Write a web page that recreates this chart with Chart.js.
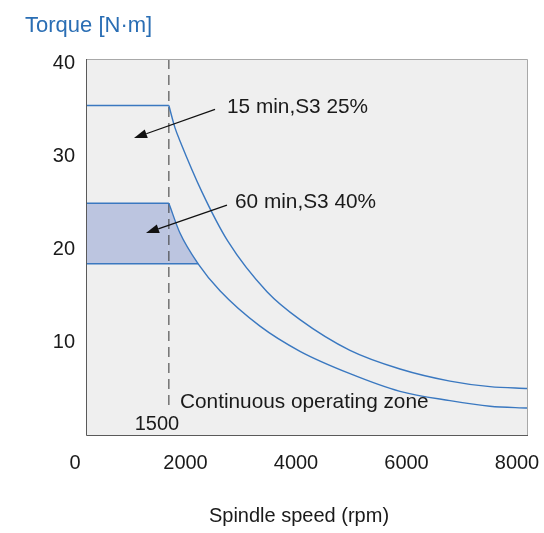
<!DOCTYPE html>
<html>
<head>
<meta charset="utf-8">
<script src="https://cdn.jsdelivr.net/npm/chart.js@4.4.1/dist/chart.umd.min.js"></script>
<style>
  html, body { margin: 0; padding: 0; background: #ffffff; }
  #wrap { width: 544px; height: 533px; }
</style>
</head>
<body>
<div id="wrap"><canvas id="torqueChart" width="544" height="533"></canvas></div>
<script>
// values
const baseSpeed = 1500;
const plateauSpeed = [0, 1500];
const plateau15 = [35.5, 35.5];
const plateau60 = [25.0, 25.0];
const zoneFloor = 18.5;
const floorSpeed = [0, 2030];

const speed15 = [1500, 1611, 1701, 2100, 2570, 3276, 3873, 4778, 5683, 6588, 7312, 8000];
const torque15 = [35.5, 33.1, 31.7, 26.2, 20.9, 15.5, 12.5, 9.2, 7.2, 5.9, 5.3, 5.1];

const speed60 = [1500, 1701, 2030, 2425, 3149, 3873, 4778, 5683, 6588, 7312, 8000];
const torque60 = [25.0, 21.8, 18.5, 15.6, 11.8, 9.1, 6.7, 4.8, 3.8, 3.2, 3.0];

const xTicks = [0, 2000, 4000, 6000, 8000];
const yTicks = [10, 20, 30, 40];

const lineBlue = '#3a78c0';
const zoneFill = '#bcc5e0';
const textColor = '#1a1a1a';
const fontFamily = "'Liberation Sans', Arial, sans-serif";

function toPoints(xs, ys) {
    return xs.map(function (x, i) { return { x: x, y: ys[i] }; });
}

// draws arrow from (x1,y1) to tip (x2,y2)
function drawArrow(ctx, x1, y1, x2, y2) {
    const ang = Math.atan2(y2 - y1, x2 - x1);
    const len = 13, half = 4.5;
    const bx = x2 - len * Math.cos(ang), by = y2 - len * Math.sin(ang);
    ctx.save();
    ctx.strokeStyle = '#111';
    ctx.fillStyle = '#111';
    ctx.lineWidth = 1.3;
    ctx.beginPath();
    ctx.moveTo(x1, y1);
    ctx.lineTo(bx, by);
    ctx.stroke();
    ctx.beginPath();
    ctx.moveTo(x2, y2);
    ctx.lineTo(bx + half * Math.sin(ang), by - half * Math.cos(ang));
    ctx.lineTo(bx - half * Math.sin(ang), by + half * Math.cos(ang));
    ctx.closePath();
    ctx.fill();
    ctx.restore();
}

const panelPlugin = {
    id: 'panel',
    beforeDraw: function (chart) {
        const a = chart.chartArea, ctx = chart.ctx;
        ctx.save();
        ctx.fillStyle = '#efefef';
        ctx.fillRect(a.left, a.top, a.right - a.left, a.bottom - a.top);
        ctx.restore();
    },
    afterDraw: function (chart) {
        const a = chart.chartArea, ctx = chart.ctx;
        const xs = chart.scales.x, ys = chart.scales.y;
        ctx.save();
        // frame
        ctx.lineWidth = 1;
        ctx.strokeStyle = '#a8a8a8';
        ctx.beginPath();
        ctx.moveTo(a.left, a.top + 0.5);
        ctx.lineTo(a.right - 0.5, a.top + 0.5);
        ctx.lineTo(a.right - 0.5, a.bottom);
        ctx.stroke();
        ctx.strokeStyle = '#5a5a5a';
        ctx.beginPath();
        ctx.moveTo(a.left + 0.5, a.top);
        ctx.lineTo(a.left + 0.5, a.bottom - 0.5);
        ctx.lineTo(a.right, a.bottom - 0.5);
        ctx.stroke();

        // annotations
        ctx.fillStyle = textColor;
        ctx.font = '20.8px ' + fontFamily;
        ctx.textBaseline = 'middle';
        ctx.textAlign = 'left';
        ctx.fillText('15 min,S3 25%', xs.getPixelForValue(2552), ys.getPixelForValue(35.3));
        ctx.fillText('60 min,S3 40%', xs.getPixelForValue(2697), ys.getPixelForValue(25.1));
        ctx.fillText('Continuous operating zone', xs.getPixelForValue(1701), ys.getPixelForValue(3.65));
        ctx.font = '20px ' + fontFamily;
        ctx.textAlign = 'center';
        ctx.fillText(String(baseSpeed), xs.getPixelForValue(1285), ys.getPixelForValue(1.2));

        drawArrow(ctx, xs.getPixelForValue(2335), ys.getPixelForValue(35.1),
            xs.getPixelForValue(869), ys.getPixelForValue(32.0));
        drawArrow(ctx, xs.getPixelForValue(2552), ys.getPixelForValue(24.8),
            xs.getPixelForValue(1086), ys.getPixelForValue(21.8));

        // axis titles
        ctx.textAlign = 'center';
        ctx.fillText('Spindle speed (rpm)', 299, 516);
        ctx.textAlign = 'left';
        ctx.textBaseline = 'alphabetic';
        ctx.fillStyle = '#2a6eb4';
        ctx.font = '22px ' + fontFamily;
        ctx.fillText('Torque [N·m]', 25, 32);
        ctx.restore();
    }
};

const lineBase = {
    borderColor: lineBlue,
    borderWidth: 1.4,
    pointRadius: 0,
    fill: false
};

new Chart(document.getElementById('torqueChart'), {
    type: 'line',
    data: {
        datasets: [
            Object.assign({}, lineBase, {
                label: '60 min plateau',
                data: toPoints(plateauSpeed, plateau60),
                backgroundColor: zoneFill,
                fill: { value: zoneFloor }
            }),
            Object.assign({}, lineBase, {
                label: '60 min,S3 40%',
                data: toPoints(speed60, torque60),
                cubicInterpolationMode: 'monotone'
            }),
            Object.assign({}, lineBase, {
                label: 'zone floor',
                data: toPoints(floorSpeed, [zoneFloor, zoneFloor]),
                backgroundColor: zoneFill,
                fill: 1
            }),
            Object.assign({}, lineBase, {
                label: '15 min plateau',
                data: toPoints(plateauSpeed, plateau15)
            }),
            Object.assign({}, lineBase, {
                label: '15 min,S3 25%',
                data: toPoints(speed15, torque15),
                cubicInterpolationMode: 'monotone'
            }),
            {
                label: 'base speed',
                data: toPoints([baseSpeed, baseSpeed], [40.5, 3.3]),
                borderColor: '#333',
                borderWidth: 1,
                borderDash: [10, 6],
                pointRadius: 0,
                fill: false
            }
        ]
    },
    options: {
        responsive: false,
        animation: false,
        layout: { padding: { top: 59, right: 16, bottom: 0, left: 0 } },
        plugins: {
            legend: { display: false },
            tooltip: { enabled: false },
            filler: { drawTime: 'beforeDatasetsDraw' }
        },
        scales: {
            x: {
                type: 'linear',
                min: xTicks[0],
                max: xTicks[xTicks.length - 1],
                grid: { display: false, drawTicks: false },
                border: { display: false },
                ticks: {
                    stepSize: 2000,
                    padding: 15,
                    labelOffset: -11,
                    color: textColor,
                    font: { family: fontFamily, size: 20 },
                    callback: function (v) { return xTicks.indexOf(v) >= 0 ? String(v) : ''; }
                },
                afterFit: function (s) { s.height = 97; s.paddingLeft = 0; s.paddingRight = 0; }
            },
            y: {
                type: 'linear',
                min: 0,
                max: 40.5,
                grid: { display: false, drawTicks: false },
                border: { display: false },
                ticks: {
                    stepSize: 10,
                    includeBounds: false,
                    padding: 11,
                    color: textColor,
                    font: { family: fontFamily, size: 20 },
                    callback: function (v) { return yTicks.indexOf(v) >= 0 ? String(v) : ''; }
                },
                afterFit: function (s) { s.width = 86; s.paddingTop = 0; s.paddingBottom = 0; }
            }
        }
    },
    plugins: [panelPlugin]
});
</script>
</body>
</html>
